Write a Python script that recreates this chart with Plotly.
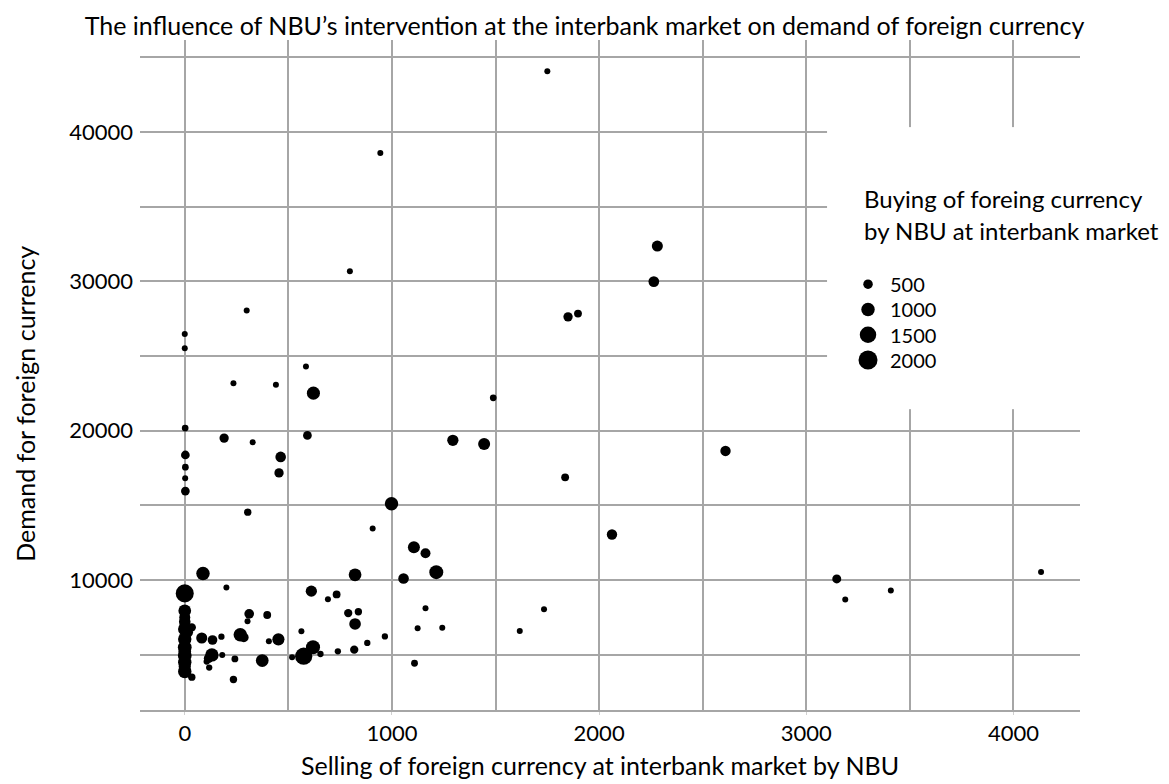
import plotly.graph_objects as go

# ---- data ----
selling = [1750, 944, 797, 299, 2281, 2264, 1850, 1898, 0, 0,
           585, 235, 440, 621, 1489, 2, 190, 328, 592, 1294,
           1445, 3, 463, 3, 2, 455, 3, 304, 998, 907,
           1106, 1162, 1214, 1056, 822, 88, 0, 201, 611, 691,
           733, 0, 0, 0, 34, 0, 82, 134, 177, 268,
           285, 311, 303, 398, 406, 452, 0, 0, 0, 131,
           106, 181, 118, 242, 374, 235, 0, 34, 563, 518,
           574, 619, 655, 739, 818, 789, 838, 822, 1162, 1124,
           1243, 1617, 966, 881, 1109, 1836, 2610, 2062, 1734, 3147,
           3188, 3408, 4133, 0, 0, 0, 15, 115]
demand = [44070, 38600, 30670, 28040, 32360, 29980, 27620, 27840, 26470, 25510,
          24290, 23180, 23070, 22510, 22200, 20170, 19500, 19220, 19680, 19350,
          19100, 18370, 18240, 17550, 16810, 17170, 15950, 14540, 15100, 13450,
          12190, 11790, 10520, 10100, 10340, 10430, 9100, 9500, 9250, 8710,
          9030, 7930, 7490, 6710, 6820, 6040, 6110, 5980, 6200, 6330,
          6150, 7730, 7240, 7650, 5890, 6020, 5490, 4930, 4490, 4980,
          4530, 4980, 4130, 4710, 4600, 3330, 3870, 3490, 6560, 4820,
          4890, 5490, 5040, 5220, 5330, 7780, 7870, 7050, 8110, 6760,
          6800, 6580, 6220, 5780, 4420, 16870, 18640, 13040, 8040, 10070,
          8690, 9290, 10530, 7200, 5200, 4200, 6500, 4750]
buying = [60, 60, 60, 60, 680, 640, 480, 340, 45, 45,
          60, 140, 135, 950, 250, 250, 480, 120, 420, 700,
          800, 420, 620, 250, 160, 480, 420, 300, 1000, 120,
          800, 550, 1080, 620, 900, 1000, 1800, 110, 700, 190,
          340, 900, 680, 1000, 380, 1000, 680, 520, 220, 1000,
          520, 520, 60, 340, 60, 820, 1050, 1050, 1000, 1000,
          220, 190, 220, 260, 900, 300, 1000, 300, 190, 60,
          1650, 1100, 220, 220, 380, 380, 300, 750, 190, 75,
          60, 60, 220, 220, 260, 340, 600, 600, 60, 450,
          150, 60, 60, 750, 900, 820, 600, 500]

legend_values = [500, 1000, 1500, 2000]
legend_labels = ["500", "1000", "1500", "2000"]

x_tick_values = [0, 1000, 2000, 3000, 4000]
x_tick_labels = ["0", "1000", "2000", "3000", "4000"]
y_tick_values = [10000, 20000, 30000, 40000]
y_tick_labels = ["10000", "20000", "30000", "40000"]

title_text = "The influence of NBU\u2019s intervention at the interbank market on demand of foreign currency"
x_title = "Selling of foreign currency at interbank market by NBU"
y_title = "Demand for foreign currency"
legend_title = ["Buying of foreing currency", "by NBU at interbank market"]

# ---- styling ----
FONT = "Lato"
GRID = "#a6a6a6"
MAX_DIAM = 19.0
SIZEREF = 2.0 * 2000 / MAX_DIAM ** 2

fig = go.Figure()

fig.add_trace(go.Scatter(
    x=selling, y=demand, mode="markers",
    marker=dict(size=buying, sizemode="area", sizeref=SIZEREF, sizemin=3,
                color="black", opacity=1, line=dict(width=0)),
    showlegend=False,
    text=[f"Buying: {b}" for b in buying],
    hovertemplate="Selling: %{x}<br>Demand: %{y}<br>%{text}<extra></extra>",
))

# size legend drawn on an auxiliary pair of hidden axes; its white plot
# background interrupts the grid like the reference's legend panel
leg_x_marker = 0.162
leg_x_label = 0.241
leg_y0 = 0.443
leg_dy = 0.0895
leg_y = [leg_y0 - i * leg_dy for i in range(len(legend_values))]

fig.add_trace(go.Scatter(
    x=[leg_x_marker] * len(legend_values), y=leg_y, xaxis="x2", yaxis="y2",
    mode="markers",
    marker=dict(size=legend_values, sizemode="area", sizeref=SIZEREF,
                color="black", opacity=1, line=dict(width=0)),
    showlegend=False, hoverinfo="skip",
))
for yy, lab in zip(leg_y, legend_labels):
    fig.add_annotation(x=leg_x_label, y=yy, xref="x2", yref="y2", text=lab,
                       showarrow=False, xanchor="left", yanchor="middle",
                       font=dict(family=FONT, size=20, color="black"))
for yy, line in zip([0.748, 0.635], legend_title):
    fig.add_annotation(x=0.138, y=yy, xref="x2", yref="y2", text=line,
                       showarrow=False, xanchor="left", yanchor="middle",
                       font=dict(family=FONT, size=24, color="black"))

# axis titles
fig.add_annotation(x=0.489, y=-0.0821, xref="paper", yref="paper", text=x_title,
                   showarrow=False, xanchor="center", yanchor="middle",
                   font=dict(family=FONT, size=25, color="black"))
fig.add_annotation(x=-0.1223, y=0.457, xref="paper", yref="paper", text=y_title,
                   textangle=-90, showarrow=False, xanchor="center", yanchor="middle",
                   font=dict(family=FONT, size=25, color="black"))

fig.update_layout(
    width=1169, height=784,
    margin=dict(l=132, r=97, t=32, b=82),
    paper_bgcolor="white", plot_bgcolor="white",
    font=dict(family=FONT, color="black"),
    title=dict(text=title_text, x=0.4932, xref="container", xanchor="center",
               y=1 - 18 / 784, yref="container", yanchor="middle",
               font=dict(family=FONT, size=25, color="black")),
    xaxis=dict(range=[-216, 4321], tickvals=x_tick_values, ticktext=x_tick_labels,
               showgrid=True, gridcolor=GRID, gridwidth=1.5,
               minor=dict(dtick=500, tick0=0, showgrid=True, gridcolor=GRID, gridwidth=1.5),
               zeroline=False, showline=True, linecolor=GRID, linewidth=1.5,
               ticks="outside", ticklen=3, tickcolor="#d0d0d0",
               tickfont=dict(family=FONT, size=22, color="black")),
    yaxis=dict(range=[1290, 46160], tickvals=y_tick_values, ticktext=y_tick_labels,
               showgrid=True, gridcolor=GRID, gridwidth=1.5,
               minor=dict(dtick=5000, tick0=0, showgrid=True, gridcolor=GRID, gridwidth=1.5),
               zeroline=False, showline=False, ticks="",
               ticklabelstandoff=6,
               tickfont=dict(family=FONT, size=22, color="black")),
    xaxis2=dict(domain=[0.7309, 1.0], range=[0, 1], anchor="y2", visible=False, fixedrange=True),
    yaxis2=dict(domain=[0.449, 0.870], range=[0, 1], anchor="x2", visible=False, fixedrange=True),
)

fig.write_html("out.html")
